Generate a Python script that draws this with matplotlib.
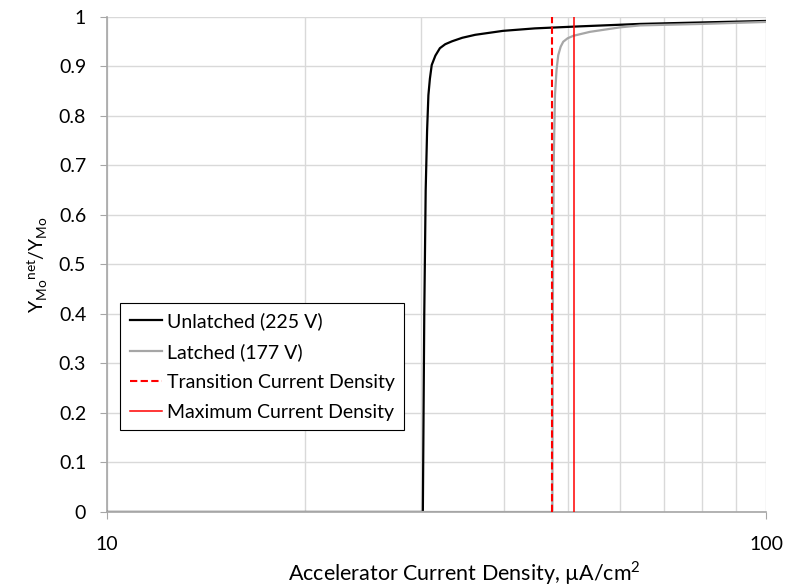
import matplotlib
matplotlib.use("Agg")
import matplotlib.pyplot as plt
from matplotlib.ticker import FixedLocator, NullFormatter

plt.rcParams["font.family"] = ["Lato", "DejaVu Sans"]
plt.rcParams["mathtext.fontset"] = "custom"
plt.rcParams["mathtext.rm"] = "Lato"

# Unlatched (225 V)
unl_x = [10, 30.15, 30.3, 30.45, 30.6, 30.74, 30.9, 31.1, 31.5, 32.0, 32.6, 33.4,
         34.6, 36.2, 39.9, 44.6, 52.0, 64.4, 80.0, 100.0]
unl_y = [0.0, 0.0, 0.4, 0.65, 0.77, 0.842, 0.875, 0.903, 0.922, 0.937, 0.945, 0.951,
         0.958, 0.964, 0.972, 0.977, 0.981, 0.986, 0.989, 0.992]

# Latched (177 V)
lat_x = [10, 47.4, 47.5, 47.65, 47.84, 48.1, 48.39, 48.8, 49.24, 50.0, 51.0, 54.06,
         60.0, 64.4, 80.0, 100.0]
lat_y = [0.0, 0.0, 0.45, 0.72, 0.842, 0.893, 0.923, 0.94, 0.95, 0.957, 0.962, 0.97,
         0.979, 0.983, 0.986, 0.99]

transition_j = 47.4
maximum_j = 51.1

fig = plt.figure(figsize=(7.85, 5.86), dpi=100)
ax = fig.add_axes([0.1363, 0.1263, 0.8395, 0.8447])

ax.plot(unl_x, unl_y, color="black", lw=1.6, label="Unlatched (225 V)", zorder=3)
ax.plot(lat_x, lat_y, color="#a6a6a6", lw=1.6, label="Latched (177 V)", zorder=3)
ax.axvline(transition_j, color="red", lw=1.5, ls=(0, (3.5, 1.6)),
           label="Transition Current Density", zorder=4)
ax.axvline(maximum_j, color="red", lw=1.1, label="Maximum Current Density", zorder=4)

ax.set_xscale("log")
ax.set_xlim(10, 100)
ax.set_ylim(0, 1)
ax.xaxis.set_major_locator(FixedLocator([10, 100]))
ax.xaxis.set_minor_locator(FixedLocator([20, 30, 40, 50, 60, 70, 80, 90, 100]))
ax.xaxis.set_minor_formatter(NullFormatter())
ax.set_xticklabels(["10", "100"])
ax.set_yticks([i / 10 for i in range(11)])
ax.set_yticklabels(["0"] + [f"{i / 10:.1f}" for i in range(1, 10)] + ["1"])

ax.grid(True, which="both", color="#d9d9d9", lw=1.0)
ax.set_axisbelow(True)
for side in ["top", "right"]:
    ax.spines[side].set_visible(False)
for side in ["left", "bottom"]:
    ax.spines[side].set_color("#a6a6a6")
    ax.spines[side].set_linewidth(1.2)

ax.tick_params(axis="y", which="major", length=5, color="#a6a6a6", pad=10, labelsize=14)
ax.tick_params(axis="x", which="major", length=5, color="#a6a6a6", pad=12, labelsize=14)
ax.tick_params(axis="x", which="minor", length=0)

ax.set_xlabel(r"Accelerator Current Density, µA/cm$^\mathregular{2}$", fontsize=15.5, labelpad=4)
ax.xaxis.set_label_coords(0.543, -0.095)
ax.set_ylabel(r"Y$_\mathregular{Mo}$$^\mathregular{net}$/Y$_\mathregular{Mo}$", fontsize=14, labelpad=6)

leg = ax.legend(loc="lower left", bbox_to_anchor=(0.02, 0.165), fontsize=14, frameon=True,
                fancybox=False, edgecolor="black", framealpha=1, borderpad=0.5,
                borderaxespad=0, handlelength=1.65, handletextpad=0.25, labelspacing=0.66)
leg.get_frame().set_linewidth(0.8)

fig.savefig("out.png", dpi=100)
